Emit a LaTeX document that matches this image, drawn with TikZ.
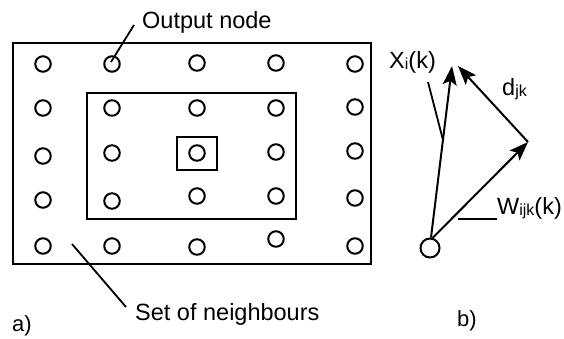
\documentclass[tikz,border=0pt]{standalone}
\usepackage{fontspec}
\setmainfont{Liberation Sans}
\usetikzlibrary{arrows.meta}
\newcommand{\sbs}[1]{\raisebox{-1pt}{\fontsize{16}{16}\selectfont #1}}
\begin{document}
\begin{tikzpicture}[x=1pt,y=-1pt,
  neuron/.style={circle,draw,line width=2pt,minimum size=15.5pt,inner sep=0pt},
  frame/.style={draw,line width=2pt},
  leader/.style={line width=1.8pt},
  vec/.style={line width=2pt,-{Stealth[length=19pt,width=14pt,inset=4pt]}},
  lbl/.style={font=\fontsize{23.5}{27}\selectfont,inner sep=0pt,anchor=base west}]
\useasboundingbox (0,0) rectangle (564,338);
% frames
\draw[frame] (13,43) rectangle (371,264);
\draw[frame] (87,93) rectangle (296,219);
\draw[frame] (177,137) rectangle (217,170);
% grid of neurons
\node[neuron] (c11) at (43,64) {};
\node[neuron] (c12) at (112,64) {};
\node[neuron] (c13) at (197,63) {};
\node[neuron] (c14) at (276,63) {};
\node[neuron] (c15) at (355,64) {};
\node[neuron] (c21) at (43,108) {};
\node[neuron] (c22) at (112,108) {};
\node[neuron] (c23) at (197,108) {};
\node[neuron] (c24) at (276,108) {};
\node[neuron] (c25) at (355,107) {};
\node[neuron] (c31) at (43,156) {};
\node[neuron] (c32) at (112,153) {};
\node[neuron] (c33) at (197,153) {};
\node[neuron] (c34) at (276,152) {};
\node[neuron] (c35) at (355,151) {};
\node[neuron] (c41) at (43,200) {};
\node[neuron] (c42) at (112,201) {};
\node[neuron] (c43) at (197,196) {};
\node[neuron] (c44) at (276,196) {};
\node[neuron] (c45) at (355,198) {};
\node[neuron] (c51) at (43,246) {};
\node[neuron] (c52) at (112,246) {};
\node[neuron] (c53) at (197,247) {};
\node[neuron] (c54) at (276,239) {};
\node[neuron] (c55) at (355,246) {};
% labels a)
\node[lbl] (out) at (142,28) {Output node};
\node[lbl] (set) at (135,320) {Set of neighbours};
\node[lbl,font=\fontsize{22}{26}\selectfont] (la) at (12,331) {a)};
\coordinate (outend) at (134,25);
\coordinate (setend) at (126,307);
\coordinate (setstart) at (72,244);
\draw[leader] (outend) -- ([shift={(-1,-2)}]c12.center);
\draw[leader] (setstart) -- (setend);
% right part
\node[neuron,minimum size=19pt] (o) at (430,248) {};
\coordinate (xt) at (452,66);
\coordinate (w) at (528,142);
\coordinate (dt) at (458,66);
\draw[vec] (o.north) ++(1,0) -- (xt);
\draw[vec] ([shift={(2,1)}]o.north) -- (w);
\draw[vec] (w) -- (dt);
\node[lbl] (lx) at (389,68) {X\sbs{i}(k)};
\node[lbl] (ld) at (502,95) {d\sbs{jk}};
\node[lbl] (lw) at (497,214) {W\sbs{ijk}(k)};
\node[lbl,font=\fontsize{22}{26}\selectfont] (lb) at (457,326) {b)};
\coordinate (xs) at (428,82);
\coordinate (xe) at (443,140);
\coordinate (ws) at (458,219);
\draw[leader] (xs) -- (xe);
\draw[leader] (ws) -- (lw.base west |- ws);
\end{tikzpicture}
\end{document}
